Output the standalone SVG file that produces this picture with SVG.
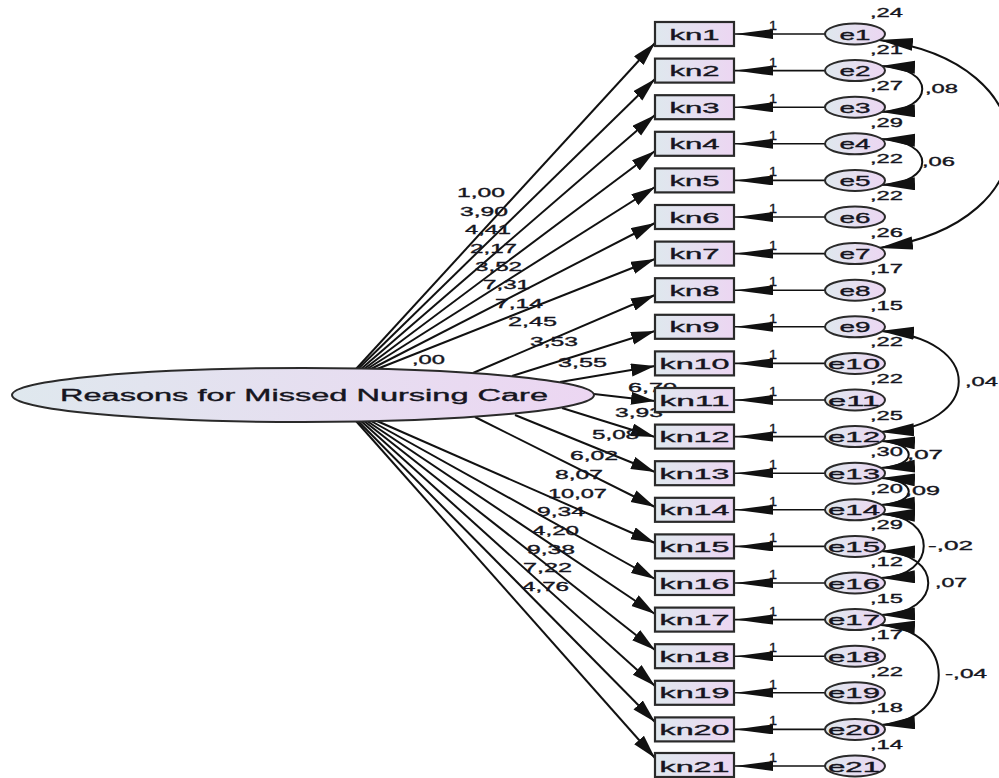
<svg xmlns="http://www.w3.org/2000/svg" width="999" height="778" viewBox="0 0 999 778">
<defs>
<linearGradient id="gf" x1="0" y1="0" x2="1" y2="0">
<stop offset="0" stop-color="#dfe8ee"/>
<stop offset="1" stop-color="#ecd6f2"/>
</linearGradient>
<marker id="ah" markerUnits="userSpaceOnUse" markerWidth="26" markerHeight="14" refX="24" refY="6.5" orient="auto"><path d="M0,0 L24,6.5 L0,13 z" fill="#111"/></marker>
<marker id="eh" markerUnits="userSpaceOnUse" markerWidth="40" markerHeight="11" refX="38" refY="5" orient="auto"><path d="M0,0 L38,5 L0,10 z" fill="#111"/></marker>
<marker id="ch" markerUnits="userSpaceOnUse" markerWidth="36" markerHeight="14" refX="34" refY="6.5" orient="auto-start-reverse"><path d="M0,0 L34,6.5 L0,13 z" fill="#111"/></marker>
</defs>
<style>
.t{font-family:"Liberation Sans",Arial,sans-serif;fill:#151520;stroke:#151520;stroke-width:0.35}
.lb{font-size:13px}
.nd{font-size:15px;text-anchor:middle}
.ob{fill:url(#gf);stroke:#2a2a2a;stroke-width:2.2}
.la{fill:url(#gf);stroke:#2a2a2a;stroke-width:2}
.p{stroke:#111;stroke-width:2;fill:none;marker-end:url(#ah)}
.e{stroke:#111;stroke-width:1.6;fill:none;marker-end:url(#eh)}
.c{stroke:#111;stroke-width:2;fill:none;marker-start:url(#ch);marker-end:url(#ch)}
</style>
<g id="connectors">
<line class="p" x1="356" y1="369" x2="655" y2="43"/>
<line class="p" x1="358" y1="369" x2="655" y2="79"/>
<line class="p" x1="361" y1="369" x2="655" y2="115"/>
<line class="p" x1="364" y1="369" x2="655" y2="151"/>
<line class="p" x1="367" y1="369" x2="655" y2="187"/>
<line class="p" x1="371" y1="369" x2="655" y2="223"/>
<line class="p" x1="377" y1="369" x2="655" y2="259"/>
<line class="p" x1="473" y1="373" x2="655" y2="295"/>
<line class="p" x1="512" y1="376" x2="655" y2="331"/>
<line class="p" x1="560" y1="382" x2="655" y2="366"/>
<line class="p" x1="594" y1="394" x2="655" y2="401"/>
<line class="p" x1="562" y1="408" x2="655" y2="437"/>
<line class="p" x1="515" y1="415" x2="655" y2="472"/>
<line class="p" x1="475" y1="417" x2="655" y2="507"/>
<line class="p" x1="377" y1="421" x2="655" y2="543"/>
<line class="p" x1="371" y1="421" x2="655" y2="579"/>
<line class="p" x1="367" y1="421" x2="655" y2="614"/>
<line class="p" x1="364" y1="421" x2="655" y2="650"/>
<line class="p" x1="361" y1="421" x2="655" y2="686"/>
<line class="p" x1="358" y1="421" x2="655" y2="722"/>
<line class="p" x1="356" y1="421" x2="655" y2="758"/>
<line class="e" x1="825" y1="34" x2="735" y2="34"/>
<line class="e" x1="825" y1="70.6" x2="735" y2="70.6"/>
<line class="e" x1="825" y1="107.2" x2="735" y2="107.2"/>
<line class="e" x1="825" y1="143.8" x2="735" y2="143.8"/>
<line class="e" x1="825" y1="180.4" x2="735" y2="180.4"/>
<line class="e" x1="825" y1="217" x2="735" y2="217"/>
<line class="e" x1="825" y1="253.6" x2="735" y2="253.6"/>
<line class="e" x1="825" y1="290.2" x2="735" y2="290.2"/>
<line class="e" x1="825" y1="326.8" x2="735" y2="326.8"/>
<line class="e" x1="825" y1="363.4" x2="735" y2="363.4"/>
<line class="e" x1="825" y1="400" x2="735" y2="400"/>
<line class="e" x1="825" y1="436.6" x2="735" y2="436.6"/>
<line class="e" x1="825" y1="473.2" x2="735" y2="473.2"/>
<line class="e" x1="825" y1="509.8" x2="735" y2="509.8"/>
<line class="e" x1="825" y1="546.4" x2="735" y2="546.4"/>
<line class="e" x1="825" y1="583" x2="735" y2="583"/>
<line class="e" x1="825" y1="619.6" x2="735" y2="619.6"/>
<line class="e" x1="825" y1="656.2" x2="735" y2="656.2"/>
<line class="e" x1="825" y1="692.8" x2="735" y2="692.8"/>
<line class="e" x1="825" y1="729.4" x2="735" y2="729.4"/>
<line class="e" x1="825" y1="766" x2="735" y2="766"/>
<path class="c" d="M879,40 C1050,62 1055,222 879,248"/>
<path class="c" d="M881,66 C936,68 936,110 881,112"/>
<path class="c" d="M881,139 C936,141 936,183 881,185"/>
<path class="c" d="M880,331 C985,338 985,425 880,432"/>
<path class="c" d="M881,441 C918,443 918,466 881,468"/>
<path class="c" d="M881,478 C918,480 918,503 881,505"/>
<path class="c" d="M881,514 C938,516 938,576 881,578"/>
<path class="c" d="M881,551 C944,553 944,613 881,615"/>
<path class="c" d="M881,625 C958,630 958,720 881,725"/>
</g>
<g id="labels" class="t lb">
<text x="457" y="197" textLength="48" lengthAdjust="spacingAndGlyphs">1,00</text>
<text x="460" y="216" textLength="48" lengthAdjust="spacingAndGlyphs">3,90</text>
<text x="465" y="234" textLength="46" lengthAdjust="spacingAndGlyphs">4,41</text>
<text x="470" y="253" textLength="47" lengthAdjust="spacingAndGlyphs">2,17</text>
<text x="475" y="271" textLength="47" lengthAdjust="spacingAndGlyphs">3,52</text>
<text x="483" y="289" textLength="47" lengthAdjust="spacingAndGlyphs">7,31</text>
<text x="495" y="308" textLength="48" lengthAdjust="spacingAndGlyphs">7,14</text>
<text x="508" y="326" textLength="49" lengthAdjust="spacingAndGlyphs">2,45</text>
<text x="530" y="346" textLength="48" lengthAdjust="spacingAndGlyphs">3,53</text>
<text x="558" y="367" textLength="49" lengthAdjust="spacingAndGlyphs">3,55</text>
<text x="412" y="364" textLength="33" lengthAdjust="spacingAndGlyphs">,00</text>
<text x="628" y="392" textLength="49" lengthAdjust="spacingAndGlyphs">6,70</text>
<text x="615" y="417" textLength="48" lengthAdjust="spacingAndGlyphs">3,93</text>
<text x="592" y="439" textLength="47" lengthAdjust="spacingAndGlyphs">5,08</text>
<text x="570" y="460" textLength="48" lengthAdjust="spacingAndGlyphs">6,02</text>
<text x="555" y="479" textLength="48" lengthAdjust="spacingAndGlyphs">8,07</text>
<text x="548" y="498" textLength="59" lengthAdjust="spacingAndGlyphs">10,07</text>
<text x="537" y="516" textLength="48" lengthAdjust="spacingAndGlyphs">9,34</text>
<text x="532" y="535" textLength="47" lengthAdjust="spacingAndGlyphs">4,20</text>
<text x="527" y="554" textLength="48" lengthAdjust="spacingAndGlyphs">9,38</text>
<text x="523" y="572" textLength="49" lengthAdjust="spacingAndGlyphs">7,22</text>
<text x="522" y="591" textLength="47" lengthAdjust="spacingAndGlyphs">4,76</text>
<text x="769" y="30" textLength="8" lengthAdjust="spacingAndGlyphs">1</text>
<text x="769" y="66.6" textLength="8" lengthAdjust="spacingAndGlyphs">1</text>
<text x="769" y="103.2" textLength="8" lengthAdjust="spacingAndGlyphs">1</text>
<text x="769" y="139.8" textLength="8" lengthAdjust="spacingAndGlyphs">1</text>
<text x="769" y="176.4" textLength="8" lengthAdjust="spacingAndGlyphs">1</text>
<text x="769" y="213" textLength="8" lengthAdjust="spacingAndGlyphs">1</text>
<text x="769" y="249.6" textLength="8" lengthAdjust="spacingAndGlyphs">1</text>
<text x="769" y="286.2" textLength="8" lengthAdjust="spacingAndGlyphs">1</text>
<text x="769" y="322.8" textLength="8" lengthAdjust="spacingAndGlyphs">1</text>
<text x="769" y="359.4" textLength="8" lengthAdjust="spacingAndGlyphs">1</text>
<text x="769" y="396" textLength="8" lengthAdjust="spacingAndGlyphs">1</text>
<text x="769" y="432.6" textLength="8" lengthAdjust="spacingAndGlyphs">1</text>
<text x="769" y="469.2" textLength="8" lengthAdjust="spacingAndGlyphs">1</text>
<text x="769" y="505.8" textLength="8" lengthAdjust="spacingAndGlyphs">1</text>
<text x="769" y="542.4" textLength="8" lengthAdjust="spacingAndGlyphs">1</text>
<text x="769" y="579" textLength="8" lengthAdjust="spacingAndGlyphs">1</text>
<text x="769" y="615.6" textLength="8" lengthAdjust="spacingAndGlyphs">1</text>
<text x="769" y="652.2" textLength="8" lengthAdjust="spacingAndGlyphs">1</text>
<text x="769" y="688.8" textLength="8" lengthAdjust="spacingAndGlyphs">1</text>
<text x="769" y="725.4" textLength="8" lengthAdjust="spacingAndGlyphs">1</text>
<text x="769" y="762" textLength="8" lengthAdjust="spacingAndGlyphs">1</text>
<text x="870" y="17" textLength="33" lengthAdjust="spacingAndGlyphs">,24</text>
<text x="870" y="53.6" textLength="33" lengthAdjust="spacingAndGlyphs">,21</text>
<text x="870" y="90.2" textLength="33" lengthAdjust="spacingAndGlyphs">,27</text>
<text x="870" y="126.8" textLength="33" lengthAdjust="spacingAndGlyphs">,29</text>
<text x="870" y="163.4" textLength="33" lengthAdjust="spacingAndGlyphs">,22</text>
<text x="870" y="200" textLength="33" lengthAdjust="spacingAndGlyphs">,22</text>
<text x="870" y="236.6" textLength="33" lengthAdjust="spacingAndGlyphs">,26</text>
<text x="870" y="273.2" textLength="33" lengthAdjust="spacingAndGlyphs">,17</text>
<text x="870" y="309.8" textLength="33" lengthAdjust="spacingAndGlyphs">,15</text>
<text x="870" y="346.4" textLength="33" lengthAdjust="spacingAndGlyphs">,22</text>
<text x="870" y="383" textLength="33" lengthAdjust="spacingAndGlyphs">,22</text>
<text x="870" y="419.6" textLength="33" lengthAdjust="spacingAndGlyphs">,25</text>
<text x="870" y="456.2" textLength="33" lengthAdjust="spacingAndGlyphs">,30</text>
<text x="870" y="492.8" textLength="33" lengthAdjust="spacingAndGlyphs">,20</text>
<text x="870" y="529.4" textLength="33" lengthAdjust="spacingAndGlyphs">,29</text>
<text x="870" y="566" textLength="33" lengthAdjust="spacingAndGlyphs">,12</text>
<text x="870" y="602.6" textLength="33" lengthAdjust="spacingAndGlyphs">,15</text>
<text x="870" y="639.2" textLength="33" lengthAdjust="spacingAndGlyphs">,17</text>
<text x="870" y="675.8" textLength="33" lengthAdjust="spacingAndGlyphs">,22</text>
<text x="870" y="712.4" textLength="33" lengthAdjust="spacingAndGlyphs">,18</text>
<text x="870" y="749" textLength="33" lengthAdjust="spacingAndGlyphs">,14</text>
<text x="925" y="93" textLength="33" lengthAdjust="spacingAndGlyphs">,08</text>
<text x="922" y="166" textLength="33" lengthAdjust="spacingAndGlyphs">,06</text>
<text x="965" y="386" textLength="33" lengthAdjust="spacingAndGlyphs">,04</text>
<text x="907" y="459" textLength="36" lengthAdjust="spacingAndGlyphs">,07</text>
<text x="905" y="495" textLength="35" lengthAdjust="spacingAndGlyphs">,09</text>
<text x="928" y="550" textLength="45" lengthAdjust="spacingAndGlyphs">-,02</text>
<text x="935" y="587" textLength="32" lengthAdjust="spacingAndGlyphs">,07</text>
<text x="945" y="678" textLength="42" lengthAdjust="spacingAndGlyphs">-,04</text>
</g>
<g id="latent">
<ellipse class="la" cx="303" cy="395" rx="291" ry="27"/>
<text class="t" x="60" y="401" font-size="16" textLength="488" lengthAdjust="spacingAndGlyphs">Reasons for Missed Nursing Care</text>
</g>
<g id="kn1"><rect class="ob" x="655" y="22" width="79" height="24"/><text class="t nd" x="694.5" y="39.5" textLength="50" lengthAdjust="spacingAndGlyphs">kn1</text></g>
<g id="kn2"><rect class="ob" x="655" y="58.6" width="79" height="24"/><text class="t nd" x="694.5" y="76.1" textLength="50" lengthAdjust="spacingAndGlyphs">kn2</text></g>
<g id="kn3"><rect class="ob" x="655" y="95.2" width="79" height="24"/><text class="t nd" x="694.5" y="112.7" textLength="50" lengthAdjust="spacingAndGlyphs">kn3</text></g>
<g id="kn4"><rect class="ob" x="655" y="131.8" width="79" height="24"/><text class="t nd" x="694.5" y="149.3" textLength="50" lengthAdjust="spacingAndGlyphs">kn4</text></g>
<g id="kn5"><rect class="ob" x="655" y="168.4" width="79" height="24"/><text class="t nd" x="694.5" y="185.9" textLength="50" lengthAdjust="spacingAndGlyphs">kn5</text></g>
<g id="kn6"><rect class="ob" x="655" y="205" width="79" height="24"/><text class="t nd" x="694.5" y="222.5" textLength="50" lengthAdjust="spacingAndGlyphs">kn6</text></g>
<g id="kn7"><rect class="ob" x="655" y="241.6" width="79" height="24"/><text class="t nd" x="694.5" y="259.1" textLength="50" lengthAdjust="spacingAndGlyphs">kn7</text></g>
<g id="kn8"><rect class="ob" x="655" y="278.2" width="79" height="24"/><text class="t nd" x="694.5" y="295.7" textLength="50" lengthAdjust="spacingAndGlyphs">kn8</text></g>
<g id="kn9"><rect class="ob" x="655" y="314.8" width="79" height="24"/><text class="t nd" x="694.5" y="332.3" textLength="50" lengthAdjust="spacingAndGlyphs">kn9</text></g>
<g id="kn10"><rect class="ob" x="655" y="351.4" width="79" height="24"/><text class="t nd" x="694.5" y="368.9" textLength="70" lengthAdjust="spacingAndGlyphs">kn10</text></g>
<g id="kn11"><rect class="ob" x="655" y="388" width="79" height="24"/><text class="t nd" x="694.5" y="405.5" textLength="70" lengthAdjust="spacingAndGlyphs">kn11</text></g>
<g id="kn12"><rect class="ob" x="655" y="424.6" width="79" height="24"/><text class="t nd" x="694.5" y="442.1" textLength="70" lengthAdjust="spacingAndGlyphs">kn12</text></g>
<g id="kn13"><rect class="ob" x="655" y="461.2" width="79" height="24"/><text class="t nd" x="694.5" y="478.7" textLength="70" lengthAdjust="spacingAndGlyphs">kn13</text></g>
<g id="kn14"><rect class="ob" x="655" y="497.8" width="79" height="24"/><text class="t nd" x="694.5" y="515.3" textLength="70" lengthAdjust="spacingAndGlyphs">kn14</text></g>
<g id="kn15"><rect class="ob" x="655" y="534.4" width="79" height="24"/><text class="t nd" x="694.5" y="551.9" textLength="70" lengthAdjust="spacingAndGlyphs">kn15</text></g>
<g id="kn16"><rect class="ob" x="655" y="571" width="79" height="24"/><text class="t nd" x="694.5" y="588.5" textLength="70" lengthAdjust="spacingAndGlyphs">kn16</text></g>
<g id="kn17"><rect class="ob" x="655" y="607.6" width="79" height="24"/><text class="t nd" x="694.5" y="625.1" textLength="70" lengthAdjust="spacingAndGlyphs">kn17</text></g>
<g id="kn18"><rect class="ob" x="655" y="644.2" width="79" height="24"/><text class="t nd" x="694.5" y="661.7" textLength="70" lengthAdjust="spacingAndGlyphs">kn18</text></g>
<g id="kn19"><rect class="ob" x="655" y="680.8" width="79" height="24"/><text class="t nd" x="694.5" y="698.3" textLength="70" lengthAdjust="spacingAndGlyphs">kn19</text></g>
<g id="kn20"><rect class="ob" x="655" y="717.4" width="79" height="24"/><text class="t nd" x="694.5" y="734.9" textLength="70" lengthAdjust="spacingAndGlyphs">kn20</text></g>
<g id="kn21"><rect class="ob" x="655" y="753" width="79" height="24"/><text class="t nd" x="694.5" y="771.5" textLength="70" lengthAdjust="spacingAndGlyphs">kn21</text></g>
<g id="e1"><ellipse class="la" cx="855" cy="34" rx="30" ry="10.5"/><text class="t nd" x="855" y="39.5" textLength="31" lengthAdjust="spacingAndGlyphs">e1</text></g>
<g id="e2"><ellipse class="la" cx="855" cy="70.6" rx="30" ry="10.5"/><text class="t nd" x="855" y="76.1" textLength="31" lengthAdjust="spacingAndGlyphs">e2</text></g>
<g id="e3"><ellipse class="la" cx="855" cy="107.2" rx="30" ry="10.5"/><text class="t nd" x="855" y="112.7" textLength="31" lengthAdjust="spacingAndGlyphs">e3</text></g>
<g id="e4"><ellipse class="la" cx="855" cy="143.8" rx="30" ry="10.5"/><text class="t nd" x="855" y="149.3" textLength="31" lengthAdjust="spacingAndGlyphs">e4</text></g>
<g id="e5"><ellipse class="la" cx="855" cy="180.4" rx="30" ry="10.5"/><text class="t nd" x="855" y="185.9" textLength="31" lengthAdjust="spacingAndGlyphs">e5</text></g>
<g id="e6"><ellipse class="la" cx="855" cy="217" rx="30" ry="10.5"/><text class="t nd" x="855" y="222.5" textLength="31" lengthAdjust="spacingAndGlyphs">e6</text></g>
<g id="e7"><ellipse class="la" cx="855" cy="253.6" rx="30" ry="10.5"/><text class="t nd" x="855" y="259.1" textLength="31" lengthAdjust="spacingAndGlyphs">e7</text></g>
<g id="e8"><ellipse class="la" cx="855" cy="290.2" rx="30" ry="10.5"/><text class="t nd" x="855" y="295.7" textLength="31" lengthAdjust="spacingAndGlyphs">e8</text></g>
<g id="e9"><ellipse class="la" cx="855" cy="326.8" rx="30" ry="10.5"/><text class="t nd" x="855" y="332.3" textLength="31" lengthAdjust="spacingAndGlyphs">e9</text></g>
<g id="e10"><ellipse class="la" cx="855" cy="363.4" rx="30" ry="10.5"/><text class="t nd" x="854" y="368.9" textLength="52" lengthAdjust="spacingAndGlyphs">e10</text></g>
<g id="e11"><ellipse class="la" cx="855" cy="400" rx="30" ry="10.5"/><text class="t nd" x="854" y="405.5" textLength="52" lengthAdjust="spacingAndGlyphs">e11</text></g>
<g id="e12"><ellipse class="la" cx="855" cy="436.6" rx="30" ry="10.5"/><text class="t nd" x="854" y="442.1" textLength="52" lengthAdjust="spacingAndGlyphs">e12</text></g>
<g id="e13"><ellipse class="la" cx="855" cy="473.2" rx="30" ry="10.5"/><text class="t nd" x="854" y="478.7" textLength="52" lengthAdjust="spacingAndGlyphs">e13</text></g>
<g id="e14"><ellipse class="la" cx="855" cy="509.8" rx="30" ry="10.5"/><text class="t nd" x="854" y="515.3" textLength="52" lengthAdjust="spacingAndGlyphs">e14</text></g>
<g id="e15"><ellipse class="la" cx="855" cy="546.4" rx="30" ry="10.5"/><text class="t nd" x="854" y="551.9" textLength="52" lengthAdjust="spacingAndGlyphs">e15</text></g>
<g id="e16"><ellipse class="la" cx="855" cy="583" rx="30" ry="10.5"/><text class="t nd" x="854" y="588.5" textLength="52" lengthAdjust="spacingAndGlyphs">e16</text></g>
<g id="e17"><ellipse class="la" cx="855" cy="619.6" rx="30" ry="10.5"/><text class="t nd" x="854" y="625.1" textLength="52" lengthAdjust="spacingAndGlyphs">e17</text></g>
<g id="e18"><ellipse class="la" cx="855" cy="656.2" rx="30" ry="10.5"/><text class="t nd" x="854" y="661.7" textLength="52" lengthAdjust="spacingAndGlyphs">e18</text></g>
<g id="e19"><ellipse class="la" cx="855" cy="692.8" rx="30" ry="10.5"/><text class="t nd" x="854" y="698.3" textLength="52" lengthAdjust="spacingAndGlyphs">e19</text></g>
<g id="e20"><ellipse class="la" cx="855" cy="729.4" rx="30" ry="10.5"/><text class="t nd" x="854" y="734.9" textLength="52" lengthAdjust="spacingAndGlyphs">e20</text></g>
<g id="e21"><ellipse class="la" cx="855" cy="766" rx="30" ry="10.5"/><text class="t nd" x="854" y="771.5" textLength="52" lengthAdjust="spacingAndGlyphs">e21</text></g>
</svg>
